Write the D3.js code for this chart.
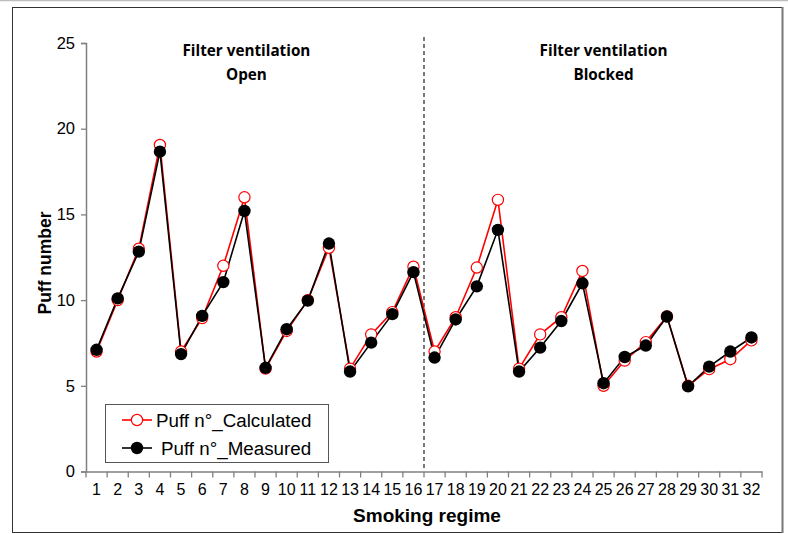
<!DOCTYPE html>
<html><head><meta charset="utf-8">
<script src="https://cdn.jsdelivr.net/npm/d3@7"></script>
<style>body{margin:0;background:#fff}svg{display:block}</style>
</head><body>
<script>
const regimes = d3.range(1, 33);
const calculated = [7.0,10.0,13.0,19.05,7.0,8.95,12.0,16.0,6.0,8.2,10.0,13.05,6.0,8.0,9.3,11.95,7.0,9.0,11.9,15.85,6.0,8.0,9.0,11.7,5.0,6.47,7.55,9.05,5.0,5.97,6.55,7.65];
const measured   = [7.1,10.1,12.83,18.66,6.85,9.08,11.05,15.2,6.05,8.3,9.97,13.3,5.83,7.52,9.18,11.63,6.65,8.87,10.8,14.1,5.83,7.23,8.78,10.98,5.15,6.68,7.35,9.04,4.97,6.12,7.0,7.82];
const yTicks = [0,5,10,15,20,25];
const legendLabels = ["Puff n°_Calculated","Puff n°_Measured"];

const W = 788, H = 534;
const svg = d3.select("body").append("svg").attr("width", W).attr("height", H);
const sans = "Liberation Sans, Arial, sans-serif";

// outer decorations
svg.append("line").attr("x1",0).attr("x2",W).attr("y1",0.5).attr("y2",0.5).attr("stroke","#bdbdbd").attr("stroke-width",1.5);
svg.append("rect").attr("x",12.5).attr("y",7.5).attr("width",770).attr("height",525)
  .attr("fill","none").attr("stroke","#333").attr("stroke-width",1);
svg.append("line").attr("x1",782.5).attr("x2",782.5).attr("y1",7).attr("y2",533).attr("stroke","#777").attr("stroke-width",2);

const x = d3.scaleBand().domain(regimes).range([86, 762]).padding(0);
const y = d3.scaleLinear().domain([0, 25]).range([471.5, 43]);
const cx = d => x(d) + x.bandwidth()/2;

const axisColor = "#808080";

// Y axis
const yAxis = svg.append("g").attr("transform","translate(86,0)")
  .call(d3.axisLeft(y).tickValues(yTicks).tickSize(5).tickPadding(6));
yAxis.select(".domain").attr("stroke",axisColor).attr("stroke-width",1.5);
yAxis.selectAll(".tick line").attr("stroke",axisColor).attr("stroke-width",1.3);
yAxis.selectAll("text").attr("font-family",sans).attr("font-size",16.5).attr("fill","#000");

// X axis
const xAxis = svg.append("g").attr("transform","translate(0,471.5)")
  .call(d3.axisBottom(x).tickSize(0).tickPadding(12));
xAxis.select(".domain").attr("stroke",axisColor).attr("stroke-width",1.5);
xAxis.selectAll("text").attr("font-family",sans).attr("font-size",16).attr("fill","#000");
const bounds = regimes.map(d => x(d)).concat([x(32)+x.bandwidth()]);
xAxis.selectAll(".bt").data(bounds).join("line").attr("class","bt")
  .attr("x1",d=>d).attr("x2",d=>d).attr("y1",0).attr("y2",6)
  .attr("stroke",axisColor).attr("stroke-width",1.3);

// divider
svg.append("line").attr("x1",x(17)).attr("x2",x(17)).attr("y1",37).attr("y2",471)
  .attr("stroke","#222").attr("stroke-width",1.2).attr("stroke-dasharray","4,3");

// annotations
const annFont = "'Open Sans', Lato, sans-serif";
const ann = [
  {x: cx(8) + 2, lines:["Filter ventilation","Open"]},
  {x: cx(25), lines:["Filter ventilation","Blocked"]}
];
const probe = svg.append("text").attr("font-family",annFont).attr("font-weight","bold").attr("font-size",16).text("Filter ventilation");
const annSize = 16 * 128 / probe.node().getComputedTextLength();
probe.remove();
ann.forEach(a => {
  a.lines.forEach((t,i) => {
    svg.append("text").attr("x",a.x).attr("y",56 + i*23.5).attr("text-anchor","middle")
      .attr("font-family",annFont).attr("font-weight","bold").attr("font-size",annSize).attr("fill","#000").text(t);
  });
});

// lines
const line = vals => d3.line().x((d,i)=>cx(regimes[i])).y(d=>y(d))(vals);
svg.append("path").attr("d",line(calculated)).attr("fill","none").attr("stroke","#ff0000").attr("stroke-width",1.6);
svg.append("path").attr("d",line(measured)).attr("fill","none").attr("stroke","#000").attr("stroke-width",1.6);
svg.append("g").selectAll("circle").data(calculated).join("circle")
  .attr("cx",(d,i)=>cx(regimes[i])).attr("cy",d=>y(d)).attr("r",5.6)
  .attr("fill","#fff").attr("stroke","#ff0000").attr("stroke-width",1.2);
svg.append("g").selectAll("circle").data(measured).join("circle")
  .attr("cx",(d,i)=>cx(regimes[i])).attr("cy",d=>y(d)).attr("r",6.2)
  .attr("fill","#000");

// axis titles
svg.append("text").attr("x",427).attr("y",522).attr("text-anchor","middle")
  .attr("font-family",sans).attr("font-weight","bold").attr("font-size",19).text("Smoking regime");
svg.append("text").attr("transform","translate(51,263) rotate(-90)").attr("text-anchor","middle")
  .attr("font-family",sans).attr("font-weight","bold").attr("font-size",17.5).text("Puff number");

// legend
const lg = svg.append("g");
lg.append("rect").attr("x",105.5).attr("y",404.5).attr("width",223).attr("height",58)
  .attr("fill","#fff").attr("stroke","#555").attr("stroke-width",1);
const rows = [
  {y:420, color:"#ff0000", open:true, tx:156},
  {y:448, color:"#000", open:false, tx:161}
];
rows.forEach((r,i) => {
  lg.append("line").attr("x1",122).attr("x2",152).attr("y1",r.y).attr("y2",r.y).attr("stroke",r.color).attr("stroke-width",1.6);
  lg.append("circle").attr("cx",137).attr("cy",r.y).attr("r",r.open?5.6:6.2)
    .attr("fill",r.open?"#fff":"#000").attr("stroke",r.open?"#ff0000":"none").attr("stroke-width",1.2);
  lg.append("text").attr("x",r.tx).attr("y",r.y+6.5).attr("font-family",sans)
    .attr("font-size",18.8).attr("fill","#000").text(legendLabels[i]);
});
</script>
</body></html>
